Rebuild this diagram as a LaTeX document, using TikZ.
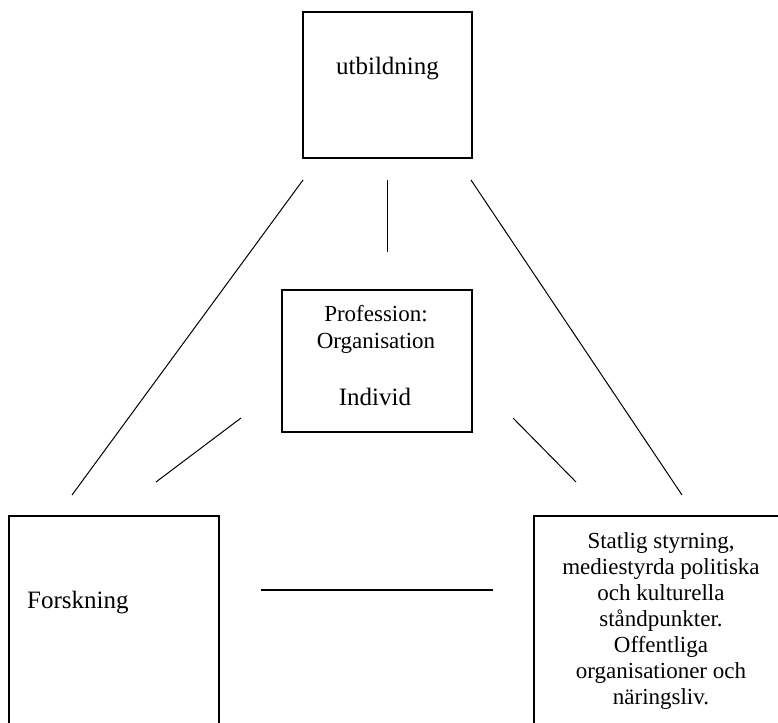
\documentclass[tikz,border=0pt]{standalone}
\usepackage{fontspec}
\setmainfont{Liberation Serif}
\begin{document}
\begin{tikzpicture}[x=1pt,y=-1pt,
  box/.style={draw=black,line width=1.2pt,rectangle,inner sep=0pt},
  link/.style={draw=black,line width=1pt},
  lbl/.style={inner sep=0pt,anchor=base,font=\fontsize{25}{28}\selectfont},
  smalllbl/.style={inner sep=0pt,anchor=base,font=\fontsize{23}{26}\selectfont}]
\useasboundingbox (0,0) rectangle (778,722);
\clip (0,0) rectangle (778,722);
% boxes
\node[box,minimum width=169pt,minimum height=146pt] (utb) at (387.5,85) {};
\node[box,minimum width=190pt,minimum height=142pt] (prof) at (377,361) {};
\node[box,minimum width=210pt,minimum height=244pt] (fors) at (114,638) {};
\node[box,minimum width=256pt,minimum height=244pt] (stat) at (662,638) {};
% texts
\node[lbl] (tutb) at (387.5,75) {utbildning};
\node[smalllbl] (tprof) at (376,321) {Profession:};
\node[smalllbl] (torg) at (376,348) {Organisation};
\node[lbl] (tind) at (375,405) {Individ};
\node[lbl,anchor=base west] (tfors) at (27,608) {Forskning};
\node[inner sep=0pt,align=center,font=\fontsize{23}{26}\selectfont] (tstat) at (661,620.7)
  {Statlig styrning,\\mediestyrda politiska\\och kulturella\\ståndpunkter.\\Offentliga\\organisationer och\\näringsliv.};
% connector end points
\coordinate (a1) at (303,180); \coordinate (a2) at (72,495);
\coordinate (b1) at (387,180); \coordinate (b2) at (387,252);
\coordinate (c1) at (241,418); \coordinate (c2) at (156,482);
\coordinate (d1) at (471,180); \coordinate (d2) at (682,495);
\coordinate (e1) at (513,418); \coordinate (e2) at (576,482);
\coordinate (f1) at (261,590); \coordinate (f2) at (493,590);
% connectors
\draw[link] (a1) -- (a2);
\draw[link] (b1) -- (b2);
\draw[link] (c1) -- (c2);
\draw[link] (d1) -- (d2);
\draw[link] (e1) -- (e2);
\draw[link,line width=1.3pt] (f1) -- (f2);
\end{tikzpicture}
\end{document}
